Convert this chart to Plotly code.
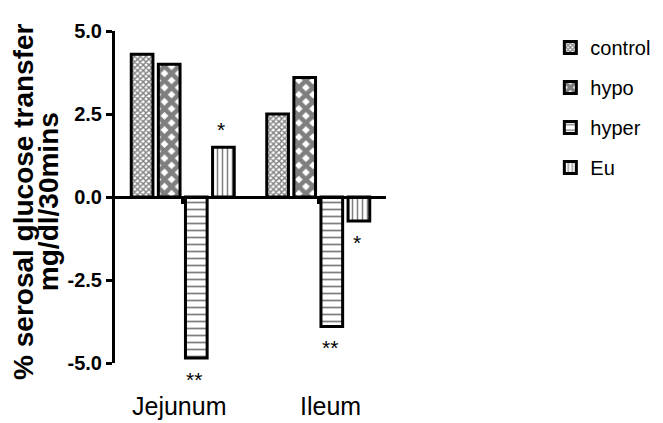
import plotly.graph_objects as go

# data
categories = ["Jejunum", "Ileum"]
groups = ["control", "hypo", "hyper", "Eu"]
control = [4.3, 2.5]
hypo = [4.0, 3.6]
hyper = [-4.85, -3.9]
eu = [1.5, -0.72]

y_ticks = [-5.0, -2.5, 0.0, 2.5, 5.0]
y_tick_text = ["-5.0", "-2.5", "0.0", "2.5", "5.0"]

# significance marks: (category, group index, value, text)
star_cat = ["Jejunum", "Jejunum", "Ileum", "Ileum"]
star_grp = [3, 2, 2, 3]
star_val = [1.5, -4.85, -3.9, -0.72]
star_txt = ["*", "**", "**", "*"]

FONT = "Liberation Sans, Arial, sans-serif"

patterns = {
    "control": {"shape": "x", "size": 4, "solidity": 0.6},
    "hypo": {"shape": "x", "size": 10, "solidity": 0.7},
    "hyper": {"shape": "-", "size": 7, "solidity": 0.25},
    "Eu": {"shape": "|", "size": 5, "solidity": 0.3},
}

fig = go.Figure()
for name, vals in zip(groups, [control, hypo, hyper, eu]):
    p = patterns[name]
    fig.add_trace(
        go.Bar(
            x=categories,
            y=vals,
            name=name,
            legendgroup=name,
            marker={
                "color": "white",
                "line": {"color": "black", "width": 3},
                "pattern": {
                    "shape": p["shape"],
                    "size": p["size"],
                    "solidity": p["solidity"],
                    "fgcolor": "black",
                    "bgcolor": "white",
                    "fillmode": "overlay",
                },
            },
        )
    )

slot = 27  # px per bar slot inside a group
for cat, g, v, t in zip(star_cat, star_grp, star_val, star_txt):
    fig.add_annotation(
        x=cat,
        y=v,
        xref="x",
        yref="y",
        text=t,
        showarrow=False,
        xshift=(g - 1.5) * slot - 2,
        yanchor="bottom" if v > 0 else "top",
        yshift=4 if v > 0 else -8,
        font={"family": FONT, "size": 21, "color": "black"},
    )

for cat, dx in zip(categories, [-3, 12]):
    fig.add_annotation(
        x=cat,
        y=0,
        xref="x",
        yref="paper",
        text=cat,
        showarrow=False,
        yanchor="top",
        yshift=-27,
        xshift=dx,
        font={"family": FONT, "size": 25, "color": "black"},
    )

# y axis title, two bold lines
for line, xpos in zip(["% serosal glucose transfer", "mg/dl/30mins"], [-0.336, -0.243]):
    fig.add_annotation(
        x=xpos,
        y=0.485,
        xref="paper",
        yref="paper",
        xanchor="center",
        yanchor="middle",
        text=f"<b>{line}</b>",
        textangle=-90,
        showarrow=False,
        font={"family": FONT, "size": 28, "color": "black"},
    )

# page body adds an 8px margin, so the figure is drawn 8px smaller
fig.update_layout(
    width=655,
    height=415,
    margin={"l": 107, "r": 277, "t": 17, "b": 60},
    paper_bgcolor="white",
    plot_bgcolor="white",
    barmode="group",
    bargap=0.2,
    bargroupgap=0.2,
    showlegend=True,
    legend={
        "xref": "container",
        "yref": "container",
        "x": 0.828,
        "xanchor": "left",
        "y": 0.952,
        "yanchor": "top",
        "font": {"family": FONT, "size": 20, "color": "black"},
        "tracegroupgap": 11,
        "itemwidth": 30,
        "bgcolor": "rgba(0,0,0,0)",
    },
    xaxis={
        "anchor": "free",
        "position": 0.5,
        "showline": True,
        "linecolor": "black",
        "linewidth": 3,
        "ticks": "outside",
        "ticklen": 5,
        "tickwidth": 3,
        "tickcolor": "black",
        "showticklabels": False,
        "showgrid": False,
        "zeroline": False,
    },
    yaxis={
        "range": [-5, 5],
        "tickvals": y_ticks,
        "ticktext": y_tick_text,
        "showline": True,
        "linecolor": "black",
        "linewidth": 3,
        "ticks": "outside",
        "ticklen": 6,
        "tickwidth": 3,
        "tickcolor": "black",
        "showgrid": False,
        "zeroline": False,
        "tickfont": {"family": FONT, "size": 20, "color": "black", "weight": "bold"},
    },
)

fig.write_html("out.html")
